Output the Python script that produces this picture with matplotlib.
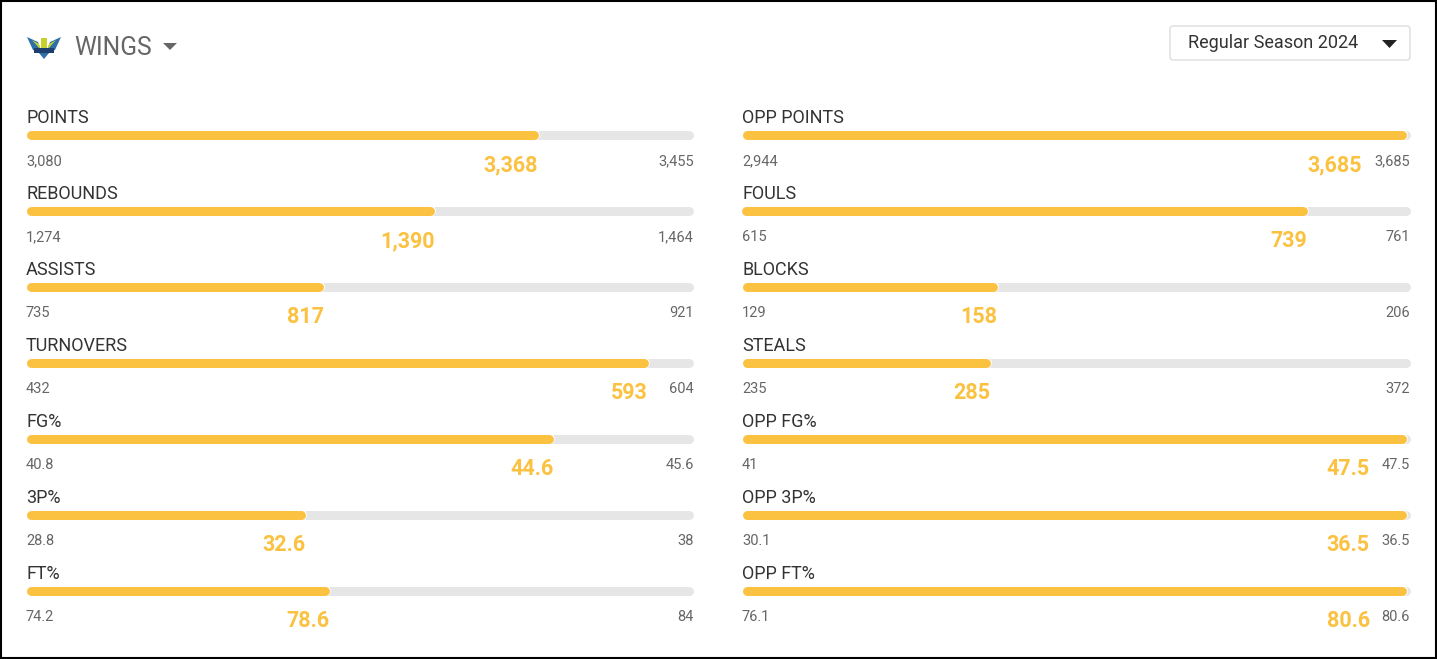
import matplotlib.pyplot as plt
import matplotlib.patheffects as pe
from matplotlib.patches import FancyBboxPatch, Polygon, Rectangle

W, H = 1437, 659
plt.rcParams['font.family'] = ['Roboto', 'DejaVu Sans']

# --- data ---
left_stats = ["POINTS", "REBOUNDS", "ASSISTS", "TURNOVERS", "FG%", "3P%", "FT%"]
left_vals = [3368, 1390, 817, 593, 44.6, 32.6, 78.6]
left_min = [3080, 1274, 735, 432, 40.8, 28.8, 74.2]
left_max = [3455, 1464, 921, 604, 45.6, 38, 84]

right_stats = ["OPP POINTS", "FOULS", "BLOCKS", "STEALS", "OPP FG%", "OPP 3P%", "OPP FT%"]
right_vals = [3685, 739, 158, 285, 47.5, 36.5, 80.6]
right_min = [2944, 615, 129, 235, 41, 30.1, 76.1]
right_max = [3685, 761, 206, 372, 47.5, 36.5, 80.6]

team = "WINGS"
season = "Regular Season 2024"

YELLOW = "#fbc140"
TRACK = "#e6e6e6"
BAR_PX = 9
LW = BAR_PX * 0.72

fig = plt.figure(figsize=(W / 100, H / 100), dpi=100)
ax = fig.add_axes([0, 0, 1, 1])
ax.set_xlim(0, W)
ax.set_ylim(H, 0)
ax.axis('off')
renderer = fig.canvas.get_renderer()


def fmt(v):
    return f"{v:,}"


def draw_column(x0, x1, stats, vals, mins, maxs):
    half = BAR_PX / 2
    for i, (name, v, lo, hi) in enumerate(zip(stats, vals, mins, maxs)):
        yc = 135 + 76 * i
        bottom = (H - yc - 10) / H
        # grey track
        tax = fig.add_axes([(x0 + half) / W, bottom, (x1 - x0 - BAR_PX) / W, 20 / H])
        tax.set_xlim(0, 1)
        tax.set_ylim(0, 1)
        tax.axis('off')
        tax.plot([0, 1], [0.5, 0.5], lw=LW, color=TRACK, solid_capstyle='round', clip_on=False)
        # fill on the stat's own scale (a bit shorter so a full bar leaves a rim)
        bax = fig.add_axes([(x0 + half) / W, bottom, (x1 - x0 - BAR_PX - 4) / W, 20 / H])
        bax.set_xlim(lo, hi)
        bax.set_ylim(0, 1)
        bax.axis('off')
        bax.plot([lo, v], [0.5, 0.5], lw=LW, color=YELLOW, solid_capstyle='round', clip_on=False,
                 path_effects=[pe.Stroke(linewidth=LW + 2, foreground='white'), pe.Normal()])

        ax.text(x0, yc - 12, name, fontsize=13, color='#333333', va='baseline', ha='left')
        ax.text(x0, yc + 30, fmt(lo), fontsize=10.5, color='#666666', va='baseline', ha='left')
        tmax = ax.text(x1, yc + 30, fmt(hi), fontsize=10.5, color='#666666', va='baseline', ha='right')

        end_px = bax.transData.transform((v, 0.5))[0] + half
        max_left = tmax.get_window_extent(renderer).x0
        xv = min(end_px, max_left - 12)
        ax.text(xv, yc + 36, fmt(v), fontsize=15.5, fontweight='bold', color=YELLOW,
                va='baseline', ha='right')


draw_column(26, 694, left_stats, left_vals, left_min, left_max)
draw_column(742, 1410, right_stats, right_vals, right_min, right_max)

# --- header: logo, team name ---
ax.add_patch(Polygon([(27, 37), (38, 42), (42, 54), (33, 50)], closed=True, fc='#2f6fa8', ec='none'))
ax.add_patch(Polygon([(61, 37), (50, 42), (46, 54), (55, 50)], closed=True, fc='#2f6fa8', ec='none'))
ax.add_patch(Polygon([(32, 40), (39, 44), (41, 50)], closed=True, fc='#c4d22b', ec='none'))
ax.add_patch(Polygon([(56, 40), (49, 44), (47, 50)], closed=True, fc='#c4d22b', ec='none'))
ax.add_patch(Rectangle((41, 38), 6, 12, fc='#c4d22b', ec='none'))
ax.add_patch(Rectangle((34, 48), 20, 5, fc='#1d3f6e', ec='none'))
ax.add_patch(Polygon([(39, 53), (49, 53), (44, 59)], closed=True, fc='#2f6fa8', ec='none'))

ax.text(74, 55, team, fontsize=17.7, color='#666666', va='baseline', ha='left')
ax.add_patch(Polygon([(163, 43), (177, 43), (170, 50)], closed=True, fc='#666666', ec='none'))

# --- season dropdown ---
ax.add_patch(FancyBboxPatch((1170, 26), 240, 34, boxstyle="round,pad=0,rounding_size=3",
                            fc='white', ec='#dddddd', lw=1))
ax.text(1273, 43, season, fontsize=13, color='#333333', va='center', ha='center')
ax.add_patch(Polygon([(1382, 40), (1397, 40), (1389.5, 48)], closed=True, fc='#222222', ec='none'))

# outer border
ax.add_patch(Rectangle((1, 1), W - 2, H - 2, fc='none', ec='black', lw=1.5))

fig.savefig("out.png", dpi=100)
